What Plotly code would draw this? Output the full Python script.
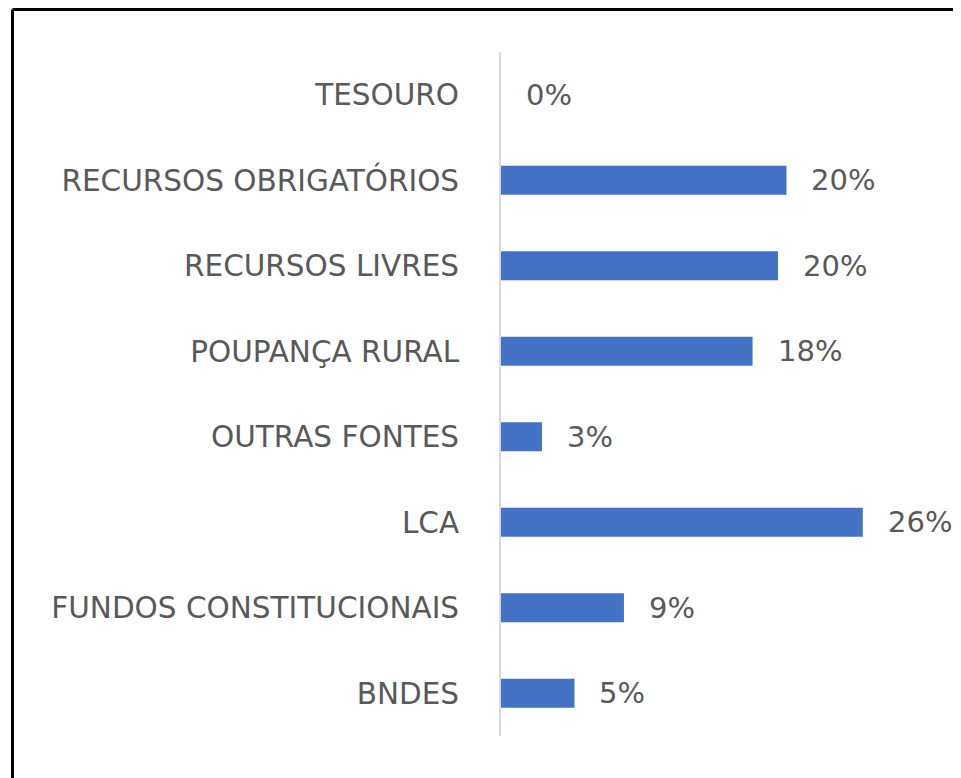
import plotly.graph_objects as go

categories = ["TESOURO", "RECURSOS OBRIGATÓRIOS", "RECURSOS LIVRES", "POUPANÇA RURAL",
              "OUTRAS FONTES", "LCA", "FUNDOS CONSTITUCIONAIS", "BNDES"]
values = [0.0, 20.2, 19.6, 17.8, 2.9, 25.6, 8.7, 5.2]
labels = ["0%", "20%", "20%", "18%", "3%", "26%", "9%", "5%"]

TEXT = "#595959"
FONT = "DejaVu Sans"

W, H = 953, 770
L, R, T, B = 493, 36, 44, 42
PW, PH = W - L - R, H - T - B

fig = go.Figure()
fig.add_trace(go.Bar(
    x=values, y=categories, orientation="h",
    marker=dict(color="#4472C4", line=dict(width=0)),
    hoverinfo="skip",
))

for c, v, t in zip(categories, values, labels):
    fig.add_annotation(x=v, y=c, text=t, showarrow=False, xanchor="left",
                       xshift=23, font=dict(family=FONT, size=29, color=TEXT))

fig.update_layout(
    width=W, height=H,
    margin=dict(l=L, r=R, t=T, b=B),
    paper_bgcolor="white", plot_bgcolor="white",
    showlegend=False,
    bargap=0.66,
    xaxis=dict(range=[0, 30], visible=False, showgrid=False, zeroline=False),
    yaxis=dict(autorange="reversed", showline=True, linecolor="#d9d9d9", linewidth=2,
               showgrid=False, zeroline=False, ticks="", ticklabelstandoff=34,
               tickfont=dict(family=FONT, size=29.5, color=TEXT)),
)

# frame: only left and top edges are visible in the reference
x_left = (4.5 - L) / PW
y_top = 1 + (T - 1.5) / PH
fig.add_shape(type="line", xref="paper", yref="paper",
              x0=x_left, x1=x_left, y0=-(B + 30) / PH, y1=y_top,
              line=dict(color="black", width=3), layer="above")
fig.add_shape(type="line", xref="paper", yref="paper",
              x0=x_left, x1=1 + (R - 2) / PW, y0=y_top, y1=y_top,
              line=dict(color="black", width=3), layer="above")

fig.write_html("out.html")
